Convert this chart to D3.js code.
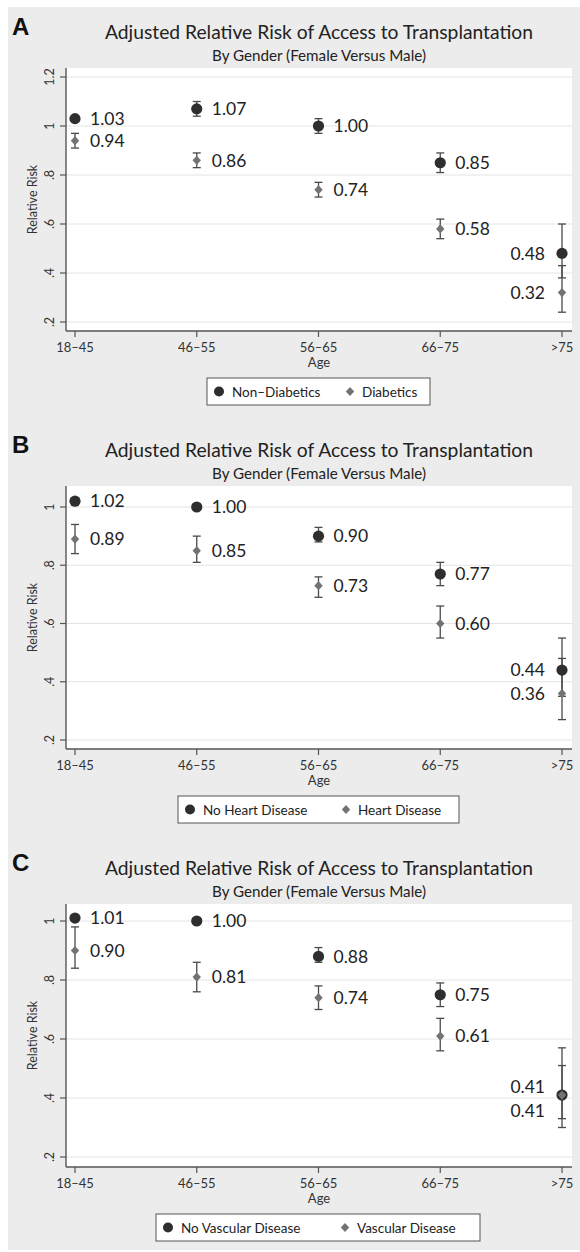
<!DOCTYPE html>
<html><head><meta charset="utf-8">
<script src="https://cdn.jsdelivr.net/npm/d3@7"></script>
<style>
body{margin:0;background:#fff;}
svg{display:block;}
text{font-family:Lato,"Open Sans",sans-serif;fill:#222;}
</style>
</head><body>
<svg id="chart" width="580" height="1252"></svg>
<script>
// ---- data ----
const categories = ["18–45","46–55","56–65","66–75",">75"];
const mainTitle = "Adjusted Relative Risk of Access to Transplantation";
const subTitle = "By Gender (Female Versus Male)";
const yAxisTitle = "Relative Risk";
const xAxisTitle = "Age";

const aNames = ["Non–Diabetics","Diabetics"];
const aDarkRR = [1.03,1.07,1.00,0.85,0.48];
const aDarkLo = [1.02,1.04,0.97,0.81,0.38];
const aDarkHi = [1.04,1.10,1.03,0.89,0.60];
const aLightRR = [0.94,0.86,0.74,0.58,0.32];
const aLightLo = [0.91,0.83,0.71,0.54,0.24];
const aLightHi = [0.97,0.89,0.77,0.62,0.43];
const aTicks = [0.2,0.4,0.6,0.8,1,1.2];
const aTickLabels = [".2",".4",".6",".8","1","1.2"];

const bNames = ["No Heart Disease","Heart Disease"];
const bDarkRR = [1.02,1.00,0.90,0.77,0.44];
const bDarkLo = [1.01,0.99,0.88,0.73,0.35];
const bDarkHi = [1.03,1.01,0.93,0.81,0.55];
const bLightRR = [0.89,0.85,0.73,0.60,0.36];
const bLightLo = [0.84,0.81,0.69,0.55,0.27];
const bLightHi = [0.94,0.90,0.76,0.66,0.48];
const bTicks = [0.2,0.4,0.6,0.8,1];
const bTickLabels = [".2",".4",".6",".8","1"];

const cNames = ["No Vascular Disease","Vascular Disease"];
const cDarkRR = [1.01,1.00,0.88,0.75,0.41];
const cDarkLo = [1.00,0.99,0.86,0.71,0.33];
const cDarkHi = [1.02,1.01,0.91,0.79,0.51];
const cLightRR = [0.90,0.81,0.74,0.61,0.41];
const cLightLo = [0.84,0.76,0.70,0.56,0.30];
const cLightHi = [0.98,0.86,0.78,0.67,0.57];
const cTicks = [0.2,0.4,0.6,0.8,1];
const cTickLabels = [".2",".4",".6",".8","1"];

// ---- layout ----
const panels = [
  {letter:"A", top:0,   names:aNames, dark:[aDarkRR,aDarkLo,aDarkHi], light:[aLightRR,aLightLo,aLightHi],
   ticks:aTicks, tickLabels:aTickLabels, yDom:[0.2,1.2], yRange:[322,77], leg:{x:207,w:223,i2:143}},
  {letter:"B", top:418, names:bNames, dark:[bDarkRR,bDarkLo,bDarkHi], light:[bLightRR,bLightLo,bLightHi],
   ticks:bTicks, tickLabels:bTickLabels, yDom:[0.2,1], yRange:[322,89], leg:{x:178,w:281,i2:168}},
  {letter:"C", top:836, names:cNames, dark:[cDarkRR,cDarkLo,cDarkHi], light:[cLightRR,cLightLo,cLightHi],
   ticks:cTicks, tickLabels:cTickLabels, yDom:[0.2,1], yRange:[321,85], leg:{x:156,w:324,i2:189}}
];
const DARK = "#2e2e2e", LIGHT = "#737373", AXIS = "#555";
const plotL = 66, plotR = 572, plotT = 68, plotB = 331;

const svg = d3.select("#chart");
svg.append("rect").attr("x",8).attr("y",7).attr("width",572).attr("height",1243).attr("fill","#ececec");

const x = d3.scalePoint().domain(categories).range([75,562]);
const diamond = (cx,cy,w,h) => `M${cx},${cy-h}L${cx+w},${cy}L${cx},${cy+h}L${cx-w},${cy}Z`;

function fitText(sel, target){
  const fs = parseFloat(sel.attr("font-size"));
  const w = sel.node().getComputedTextLength();
  if (w>0) sel.attr("font-size", (fs*target/w).toFixed(2));
}

panels.forEach(p => {
  const g = svg.append("g").attr("transform",`translate(0,${p.top})`);
  const y = d3.scaleLinear().domain(p.yDom).range(p.yRange);

  // titles
  g.append("text").attr("x",12).attr("y",35).attr("font-size",24).attr("font-weight","bold")
    .style("font-family","'Liberation Sans',Arial,sans-serif").style("fill","#111").text(p.letter);
  const t1 = g.append("text").attr("x",319).attr("y",39).attr("text-anchor","middle").attr("font-size",20).text(mainTitle);
  fitText(t1,428);
  const t2 = g.append("text").attr("x",319).attr("y",61).attr("text-anchor","middle").attr("font-size",14).text(subTitle);
  fitText(t2,214);

  // plot area
  g.append("rect").attr("x",plotL).attr("y",plotT).attr("width",plotR-plotL).attr("height",plotB-plotT).attr("fill","#fff");
  g.selectAll(".grid").data(p.ticks).join("line")
    .attr("x1",plotL).attr("x2",plotR).attr("y1",d=>y(d)).attr("y2",d=>y(d))
    .attr("stroke","#e4e4e4").attr("stroke-width",1);

  // y axis
  g.append("line").attr("x1",plotL).attr("x2",plotL).attr("y1",plotT).attr("y2",plotB).attr("stroke",AXIS).attr("stroke-width",1.4);
  g.selectAll(".ytick").data(p.ticks).join("line")
    .attr("x1",plotL-6).attr("x2",plotL).attr("y1",d=>y(d)).attr("y2",d=>y(d)).attr("stroke",AXIS).attr("stroke-width",1.2);
  g.selectAll(".ylab").data(p.ticks).join("text")
    .attr("transform",d=>`translate(50,${y(d)}) rotate(-90)`)
    .attr("text-anchor","middle").attr("font-size",12.5).attr("dy","0.35em").style("fill","#333")
    .text((d,i)=>p.tickLabels[i]);
  g.append("text").attr("transform",`translate(33,${(plotT+plotB)/2}) rotate(-90)`)
    .attr("text-anchor","middle").attr("dy","0.35em").attr("font-size",12.5).style("fill","#333").text(yAxisTitle);

  // x axis
  g.append("line").attr("x1",plotL).attr("x2",plotR).attr("y1",plotB).attr("y2",plotB).attr("stroke",AXIS).attr("stroke-width",1.4);
  g.selectAll(".xtick").data(categories).join("line")
    .attr("x1",d=>x(d)).attr("x2",d=>x(d)).attr("y1",plotB).attr("y2",plotB+6).attr("stroke",AXIS).attr("stroke-width",1.2);
  g.selectAll(".xlab").data(categories).join("text")
    .attr("x",d=>x(d)).attr("y",plotB+21).attr("text-anchor","middle").attr("font-size",13).style("fill","#333").text(d=>d);
  g.append("text").attr("x",319).attr("y",plotB+36).attr("text-anchor","middle").attr("font-size",13).style("fill","#333").text(xAxisTitle);

  // error bars + markers
  const series = [
    {vals:p.dark, color:DARK, shape:"circle"},
    {vals:p.light, color:LIGHT, shape:"diamond"}
  ];
  series.forEach(s => {
    const [rr,lo,hi] = s.vals;
    const eg = g.append("g");
    categories.forEach((c,i) => {
      const cx = x(c);
      eg.append("line").attr("x1",cx).attr("x2",cx).attr("y1",y(lo[i])).attr("y2",y(hi[i])).attr("stroke","#4a4a4a").attr("stroke-width",1.3);
      [lo[i],hi[i]].forEach(v => eg.append("line").attr("x1",cx-4).attr("x2",cx+4).attr("y1",y(v)).attr("y2",y(v)).attr("stroke","#4a4a4a").attr("stroke-width",1.3));
    });
  });
  series.forEach(s => {
    const [rr] = s.vals;
    categories.forEach((c,i) => {
      if (s.shape==="circle") g.append("circle").attr("cx",x(c)).attr("cy",y(rr[i])).attr("r",5.6).attr("fill",s.color);
      else g.append("path").attr("d",diamond(x(c),y(rr[i]),4.2,4.6)).attr("fill",s.color);
    });
  });

  // value labels
  const [dRR] = p.dark, [lRR] = p.light;
  categories.forEach((c,i) => {
    let yd = y(dRR[i]), yl = y(lRR[i]);
    const diff = yl - yd;
    if (diff < 20) { const push = (24-diff)/2; yd -= push-4; yl += push+4; }
    const last = i === categories.length-1;
    [[dRR[i],yd],[lRR[i],yl]].forEach(([v,yy]) => {
      g.append("text").attr("x", last ? x(c)-17 : x(c)+15).attr("y",yy).attr("dy","0.36em")
        .attr("text-anchor", last ? "end" : "start").attr("font-size",17.5).text(v.toFixed(2));
    });
  });

  // legend
  const L = p.leg, ly = 378;
  g.append("rect").attr("x",L.x).attr("y",ly).attr("width",L.w).attr("height",27).attr("fill","#fff").attr("stroke","#555").attr("stroke-width",1);
  g.append("circle").attr("cx",L.x+12).attr("cy",ly+13.5).attr("r",5).attr("fill",DARK);
  g.append("text").attr("x",L.x+25).attr("y",ly+18.5).attr("font-size",13.5).text(p.names[0]);
  g.append("path").attr("d",diamond(L.x+L.i2,ly+13.5,4.2,4.6)).attr("fill",LIGHT);
  g.append("text").attr("x",L.x+L.i2+12).attr("y",ly+18.5).attr("font-size",13.5).text(p.names[1]);
});
</script>
</body></html>
